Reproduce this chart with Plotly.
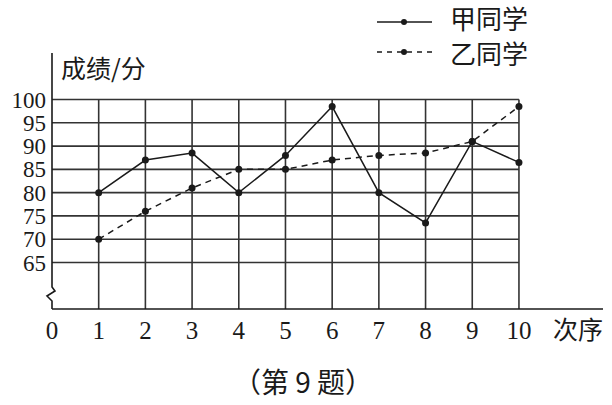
import plotly.graph_objects as go

# ---- data ----
order = [1, 2, 3, 4, 5, 6, 7, 8, 9, 10]
jia = [80, 87, 88.5, 80, 88, 98.5, 80, 73.5, 91, 86.5]
yi = [70, 76, 81, 85, 85, 87, 88, 88.5, 91, 98.5]
y_ticks = [65, 70, 75, 80, 85, 90, 95, 100]
x_ticks = [0, 1, 2, 3, 4, 5, 6, 7, 8, 9, 10]
series_names = ["甲同学", "乙同学"]

# ---- layout geometry (page pixels) ----
W, H = 612, 405
PL, PR, PT, PB = 52, 603, 53, 309          # plot area
ML, MT, MR, MB = PL, PT, W - PR, H - PB
PW, PH = PR - PL, PB - PT
YMIN, YMAX = 55, 110
XMIN, XMAX = 0, 11.8

def px2paper(px, py):
    return (px - PL) / PW, (PB - py) / PH

CJK = "Noto Sans CJK SC"
SERIF = "Liberation Serif"
INK = "#1a1a1a"

fig = go.Figure()
fig.add_trace(go.Scatter(
    x=order, y=jia, name=series_names[0], mode="lines+markers",
    line=dict(color=INK, width=1.5),
    marker=dict(color=INK, size=7), showlegend=False,
))
fig.add_trace(go.Scatter(
    x=order, y=yi, name=series_names[1], mode="lines+markers",
    line=dict(color=INK, width=1.5, dash="6px,5px"),
    marker=dict(color=INK, size=7), showlegend=False,
))

shapes = []
grid = dict(color="#333333", width=1.6)
for xv in order:
    shapes.append(dict(type="line", xref="x", yref="y", x0=xv, x1=xv,
                       y0=YMIN, y1=max(y_ticks), line=grid, layer="below"))
for yv in y_ticks:
    shapes.append(dict(type="line", xref="x", yref="y", x0=0, x1=max(order),
                       y0=yv, y1=yv, line=grid, layer="below"))

# y axis with break mark
pts = [(52, 53), (52, 287), (55, 291), (47, 296), (52, 301), (52, 309)]
path = ""
for i, (a, b) in enumerate(pts):
    xp, yp = px2paper(a, b)
    path += ("M" if i == 0 else " L") + f" {xp:.4f},{yp:.4f}"
shapes.append(dict(type="path", xref="paper", yref="paper", path=path,
                   line=dict(color=INK, width=1.6)))
# x axis line
shapes.append(dict(type="line", xref="paper", yref="paper", x0=0, x1=1,
                   y0=0, y1=0, line=dict(color=INK, width=1.6)))

# legend (drawn by hand for exact placement)
legend_rows = [(22, "solid", 17), (52, "dash", 52)]
annotations = []
for name, (ly, dash, ty) in zip(series_names, legend_rows):
    x0, y0 = px2paper(377, ly)
    x1, _ = px2paper(432, ly)
    shapes.append(dict(type="line", xref="paper", yref="paper",
                       x0=x0, x1=x1, y0=y0, y1=y0,
                       line=dict(color=INK, width=1.5,
                                 dash="solid" if dash == "solid" else "5px,5px")))
    cx0, cy0 = px2paper(401, ly - 3)
    cx1, cy1 = px2paper(407, ly + 3)
    shapes.append(dict(type="circle", xref="paper", yref="paper",
                       x0=cx0, x1=cx1, y0=cy1, y1=cy0,
                       fillcolor=INK, line=dict(color=INK, width=0)))
    tx, tyy = px2paper(448, ty)
    annotations.append(dict(text=name, xref="paper", yref="paper",
                            x=tx, y=tyy, xanchor="left", yanchor="middle",
                            showarrow=False,
                            font=dict(family=CJK, size=26, color=INK)))

annotations += [
    dict(text="成绩/分", xref="paper", yref="paper",
         x=px2paper(59, 0)[0], y=px2paper(0, 67)[1],
         xanchor="left", yanchor="middle", showarrow=False,
         font=dict(family=CJK, size=25, color=INK)),
    dict(text="次序", xref="paper", yref="paper",
         x=px2paper(605, 0)[0], y=px2paper(0, 328)[1],
         xanchor="right", yanchor="middle", showarrow=False,
         font=dict(family=CJK, size=25, color=INK)),
    dict(text="（第 9 题）", xref="paper", yref="paper",
         x=px2paper(303, 0)[0], y=px2paper(0, 381)[1],
         xanchor="center", yanchor="middle", showarrow=False,
         font=dict(family=CJK, size=28, color=INK)),
]

fig.update_layout(
    width=W, height=H,
    margin=dict(l=ML, r=MR, t=MT, b=MB, autoexpand=False),
    paper_bgcolor="white", plot_bgcolor="white",
    shapes=shapes, annotations=annotations,
    showlegend=False,
    xaxis=dict(range=[XMIN, XMAX], tickvals=x_ticks,
               ticktext=[str(v) for v in x_ticks],
               showgrid=False, zeroline=False, showline=False,
               ticks="", ticklabelstandoff=4,
               tickfont=dict(family=SERIF, size=25, color=INK)),
    yaxis=dict(range=[YMIN, YMAX], tickvals=y_ticks,
               ticktext=[str(v) for v in y_ticks],
               showgrid=False, zeroline=False, showline=False,
               ticks="", ticklabelstandoff=5,
               tickfont=dict(family=SERIF, size=23, color=INK)),
)

fig.write_html("out.html",
               config={"displayModeBar": False},
               post_script="document.body.style.margin='0';"
                           "document.body.style.overflow='hidden';")
